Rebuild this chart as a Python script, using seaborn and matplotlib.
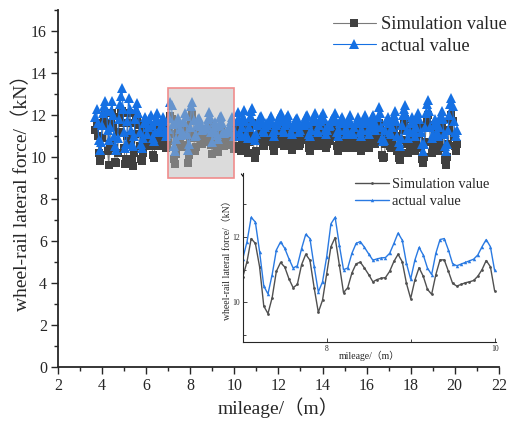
import numpy as np
import pandas as pd
import matplotlib.pyplot as plt
import matplotlib.patches as patches
import seaborn as sns

# wheel-rail lateral force (kN), one reading every 0.05 m starting at 3.7 m
actual_a = [11.9, 12.3, 11.6, 10.8, 10.35, 10.7,
            11.5, 12.1, 12.4, 12.65, 12.2, 11.3, 10.8, 11.4, 12.2, 12.65,
            12.0, 11.0, 10.5, 10.35, 10.9, 11.8, 12.5, 12.9, 13.28, 12.3,
            11.2, 10.4, 10.6, 11.7, 12.8, 12.3, 11.3, 10.6, 10.5, 11.0,
            11.8, 12.3, 12.57, 12.1, 11.2, 10.6, 10.44, 10.9, 11.6, 11.9,
            11.6, 11.1, 11.4, 11.8, 12.0, 11.5, 10.9, 10.74, 11.2, 11.8,
            12.1, 11.7, 11.3, 11.2, 11.5, 11.9, 11.7, 11.3, 11.0, 11.1]
actual_b = [11.34, 11.85, 12.6, 12.45, 11.55, 10.5, 10.26, 10.85, 11.6, 11.85,
            11.65, 11.33, 11.05, 11.12, 11.64, 12.08, 11.95, 11.1, 10.32, 10.63,
            11.4, 12.4, 12.6, 11.75, 11.0, 11.05, 11.5, 11.8, 11.86, 11.68,
            11.48, 11.29, 11.33, 11.36, 11.37, 11.5, 11.8, 12.12, 11.9, 11.19,
            10.71, 11.29, 11.68, 11.45, 11.05, 10.85, 11.5, 11.92, 11.95, 11.6,
            11.18, 11.12, 11.17, 11.22, 11.27, 11.32, 11.45, 11.7, 11.92, 11.7]
actual_c = [10.98, 11.2, 11.7, 12.15, 11.8, 11.2, 11.0, 11.4, 11.9, 12.25,
            11.7, 11.1, 10.9, 11.4, 11.9, 12.2, 12.33, 11.7, 11.0, 10.8,
            11.1, 11.5, 11.7, 11.9, 11.93, 11.6, 11.3, 11.2, 11.4, 11.6,
            11.5, 11.6, 11.8, 11.93, 11.6, 11.2, 11.0, 11.3, 11.5, 11.6,
            11.8, 12.0, 12.1, 11.7, 11.3, 11.2, 11.5, 11.8, 11.9, 12.0,
            11.6, 11.2, 11.1, 11.4, 11.6, 11.7, 11.8, 11.87, 11.5, 11.2,
            11.3, 11.5, 11.6, 11.5, 11.7, 11.95, 12.0, 11.6, 11.1, 11.0,
            11.3, 11.7, 11.9, 12.1, 11.7, 11.3, 11.2, 11.5, 11.7, 11.9,
            12.1, 11.8, 11.3, 11.1, 11.3, 11.5, 11.45, 11.5, 11.7, 11.8,
            11.9, 12.1, 11.7, 11.2, 11.0, 11.3, 11.6, 11.8, 11.9, 11.6,
            11.3, 11.1, 11.3, 11.6, 11.8, 12.0, 11.6, 11.2, 11.1, 11.4,
            11.6, 11.7, 11.9, 11.6, 11.2, 11.0, 11.3, 11.6, 11.8, 12.0,
            11.7, 11.3, 11.1, 11.4, 11.7, 11.9, 12.0, 11.6, 11.3, 11.5,
            11.9, 12.35, 12.1, 11.4, 10.9, 10.74, 10.8, 11.3, 11.7, 11.9,
            11.6, 11.2, 11.1, 11.4, 11.8, 12.0, 12.17, 11.7, 11.0, 10.7,
            10.5, 10.9, 11.5, 12.0, 12.3, 12.49, 12.0, 11.3, 10.9, 11.2,
            11.6, 11.9, 11.7, 11.3, 11.0, 11.4, 11.8, 12.1, 11.8, 11.2,
            10.6, 10.3, 10.6, 11.4, 12.1, 12.5, 12.73, 12.2, 11.4, 10.9,
            11.1, 11.5, 11.8, 11.6, 11.2, 11.0, 11.4, 11.9, 12.17, 11.8,
            11.1, 10.5, 10.27, 10.6, 11.3, 12.0, 12.5, 12.8, 12.4, 11.7,
            11.2, 11.0, 11.3]

sim_a = [11.3, 11.6, 11.0, 10.2, 9.8, 10.1,
         10.9, 11.5, 11.8, 12.1, 11.6, 10.3, 9.6, 10.6, 11.6, 12.1,
         11.4, 10.4, 9.75, 9.7, 10.2, 11.2, 11.9, 12.1, 12.2, 11.6,
         10.4, 9.65, 9.9, 11.0, 12.1, 11.6, 10.6, 9.8, 9.55, 10.2,
         11.1, 11.7, 11.9, 11.5, 10.5, 9.9, 9.8, 10.2, 10.9, 11.3,
         11.0, 10.5, 10.8, 11.2, 11.4, 10.8, 10.1, 9.95, 10.5, 11.1,
         11.5, 11.1, 10.7, 10.5, 10.8, 11.3, 11.0, 10.6, 10.4, 10.55]
sim_b = [10.78, 11.24, 11.95, 11.8, 11.09, 9.89, 9.66, 10.15, 10.95, 11.22,
         11.08, 10.72, 10.45, 10.55, 11.15, 11.47, 11.29, 10.45, 9.7, 10.07,
         10.88, 11.7, 11.98, 11.15, 10.3, 10.45, 10.9, 11.18, 11.23, 11.05,
         10.85, 10.63, 10.7, 10.74, 10.76, 10.95, 11.25, 11.47, 11.24, 10.58,
         10.12, 10.68, 11.06, 10.8, 10.4, 10.25, 10.85, 11.3, 11.3, 10.95,
         10.58, 10.5, 10.55, 10.6, 10.63, 10.67, 10.8, 11.0, 11.28, 11.09]
sim_c = [10.36, 10.5, 11.0, 11.4, 11.1, 10.5, 10.3, 10.7, 11.2, 11.5,
         11.0, 10.4, 10.2, 10.7, 11.2, 11.5, 11.6, 10.9, 10.2, 9.95,
         10.3, 10.8, 11.0, 11.2, 11.2, 10.9, 10.6, 10.5, 10.7, 10.9,
         10.8, 10.9, 11.1, 11.2, 10.9, 10.5, 10.3, 10.6, 10.8, 10.9,
         11.1, 11.3, 11.4, 11.0, 10.6, 10.5, 10.8, 11.1, 11.2, 11.3,
         10.9, 10.5, 10.35, 10.7, 10.9, 11.0, 11.1, 11.15, 10.8, 10.5,
         10.6, 10.8, 10.9, 10.8, 11.0, 11.25, 11.3, 10.9, 10.4, 10.3,
         10.6, 11.0, 11.2, 11.4, 11.0, 10.6, 10.5, 10.8, 11.0, 11.2,
         11.4, 11.1, 10.6, 10.4, 10.6, 10.8, 10.75, 10.8, 11.0, 11.1,
         11.2, 11.35, 11.0, 10.5, 10.3, 10.6, 10.9, 11.1, 11.2, 10.9,
         10.6, 10.4, 10.6, 10.9, 11.1, 11.3, 10.9, 10.5, 10.4, 10.7,
         10.9, 11.0, 11.2, 10.9, 10.5, 10.3, 10.6, 10.9, 11.1, 11.3,
         11.0, 10.6, 10.4, 10.7, 11.0, 11.2, 11.3, 10.9, 10.6, 10.8,
         11.2, 11.6, 11.4, 10.7, 10.1, 9.95, 10.0, 10.6, 11.0, 11.2,
         10.9, 10.5, 10.4, 10.7, 11.1, 11.3, 11.45, 11.0, 10.3, 9.95,
         9.87, 10.2, 10.8, 11.3, 11.6, 11.8, 11.3, 10.6, 10.2, 10.5,
         10.9, 11.2, 11.0, 10.6, 10.3, 10.7, 11.1, 11.4, 11.1, 10.4,
         9.9, 9.7, 10.0, 10.7, 11.4, 11.8, 12.0, 11.5, 10.7, 10.2,
         10.4, 10.8, 11.1, 10.9, 10.5, 10.3, 10.7, 11.2, 11.45, 11.1,
         10.4, 9.85, 9.63, 10.0, 10.6, 11.3, 11.8, 12.0, 11.7, 11.0,
         10.5, 10.3, 10.6]

actual = actual_a + actual_b + actual_c
simulation = sim_a + sim_b + sim_c
mileage = np.round(3.7 + 0.05 * np.arange(len(actual)), 2)

df = pd.DataFrame({"mileage": mileage, "simulation": simulation, "actual": actual})
zoom_df = df[(df["mileage"] >= 7.0) & (df["mileage"] <= 10.0)]

sns.set_style("ticks")
plt.rcParams["font.family"] = ["Liberation Serif", "Noto Sans CJK SC", "DejaVu Sans"]

BLUE = "#1570e3"
DARK = "#404040"

fig = plt.figure(figsize=(5.09, 4.23), dpi=100)
ax = fig.add_axes([0.114, 0.132, 0.866, 0.845])

sns.lineplot(data=df, x="mileage", y="simulation", ax=ax, sort=False,
             color="#7a7a7a", linewidth=0.8, marker="s", markersize=6,
             markerfacecolor=DARK, markeredgecolor=DARK, markeredgewidth=0,
             label="Simulation value")
sns.lineplot(data=df, x="mileage", y="actual", ax=ax, sort=False,
             color=BLUE, linewidth=0.8, marker="^", markersize=6.5,
             markerfacecolor=BLUE, markeredgecolor=BLUE, markeredgewidth=0,
             label="actual value")

ax.set_xlim(2, 22)
ax.set_ylim(0, 17)
ax.set_xticks(range(2, 23, 2))
ax.set_yticks(range(0, 17, 2))
ax.set_xticks(range(2, 23, 1), minor=True)
ax.set_yticks(range(0, 18, 1), minor=True)
ax.tick_params(which="major", direction="out", length=5, width=1, labelsize=11.5, pad=3)
ax.tick_params(which="minor", direction="out", length=3, width=1)
for s in ["left", "bottom"]:
    ax.spines[s].set_linewidth(1.3)
sns.despine(ax=ax)
ax.set_xlabel("mileage/（m）", fontsize=14, labelpad=2)
ax.set_ylabel("wheel-rail lateral force/（kN）", fontsize=14, labelpad=0)

ax.legend(loc="upper left", bbox_to_anchor=(0.655, 0.962), bbox_transform=fig.transFigure,
          frameon=False, fontsize=13.2, handlelength=2.3, handletextpad=0.3,
          labelspacing=0.25, borderpad=0, borderaxespad=0)

# shaded zoom window
ax.add_patch(patches.Rectangle((7.0, 9.0), 3.0, 4.3, facecolor=(0.72, 0.72, 0.72, 0.5),
                               edgecolor="#f08c8c", linewidth=1.2, zorder=5))

# arrow pointing to the inset
ax.annotate("", xy=(0.503, 0.541), xytext=(0.471, 0.594),
            xycoords="figure fraction", textcoords="figure fraction",
            arrowprops=dict(arrowstyle="-|>", color="black", lw=0.8, mutation_scale=10))

# inset
ins = fig.add_axes([0.477, 0.192, 0.498, 0.399])
ins.set_facecolor("white")
sns.lineplot(data=zoom_df, x="mileage", y="simulation", ax=ins, sort=False,
             color="#505050", linewidth=1.0, marker="o", markersize=2,
             markeredgewidth=0, label="Simulation value")
sns.lineplot(data=zoom_df, x="mileage", y="actual", ax=ins, sort=False,
             color="#2a7ae2", linewidth=1.0, marker="^", markersize=2.5,
             markeredgewidth=0, label="actual value")
ins.set_xlim(7.0, 10.02)
ins.set_ylim(8.8, 13.95)
ins.set_xticks([8, 10])
ins.set_xticks([7, 8, 9, 10], minor=True)
ins.set_yticks([10, 12])
ins.set_yticks([9, 11, 13], minor=True)
ins.tick_params(which="major", direction="in", length=3, width=0.6, labelsize=5.5, pad=2)
ins.tick_params(which="minor", direction="in", length=2, width=0.6)
for s in ["left", "bottom"]:
    ins.spines[s].set_linewidth(0.8)
sns.despine(ax=ins)
ins.set_xlabel("mileage/（m）", fontsize=7, labelpad=-1)
ins.set_ylabel("wheel-rail lateral force/（kN）", fontsize=7, labelpad=0)
ins.legend(loc="upper left", bbox_to_anchor=(0.697, 0.58), bbox_transform=fig.transFigure,
           frameon=False, fontsize=10.4, handlelength=2.4, handletextpad=0.2,
           labelspacing=0.3, borderpad=0, borderaxespad=0)

fig.savefig("out.png", dpi=100)
